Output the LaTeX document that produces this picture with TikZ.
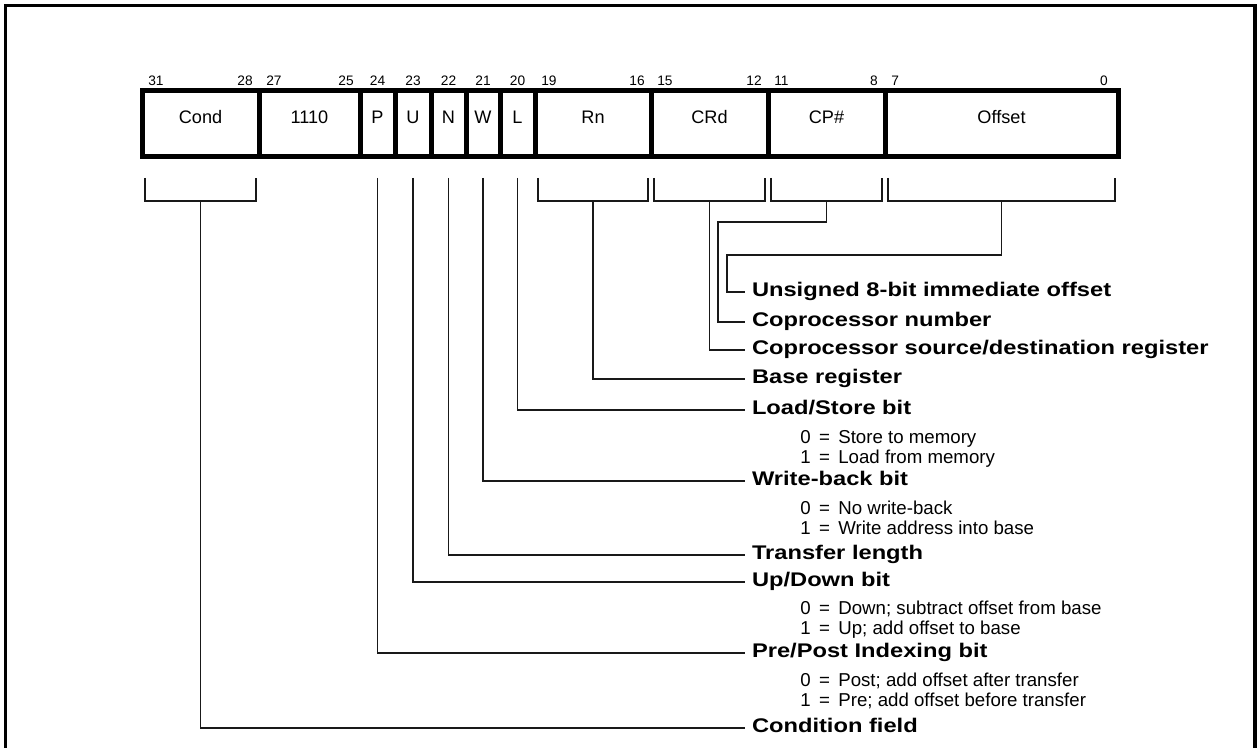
\documentclass[tikz,border=0pt]{standalone}
\usepackage{fontspec}
\setmainfont{Liberation Sans}
\newfontfamily\headfont{Liberation Sans Bold}[FakeStretch=1.2]
\usepackage{tikz}
\usetikzlibrary{fit}
\newcommand{\eqsep}{\hspace{0.45em}=\hspace{0.45em}}

\begin{document}
\begin{tikzpicture}[x=0.75pt, y=-0.75pt,
        field/.style={draw, line width=3.75pt, inner sep=0pt, outer sep=0pt, font=\fontsize{13.6}{16}\selectfont},
        bitno/.style={inner sep=0pt, font=\fontsize{10.3}{12}\selectfont},
        heading/.style={anchor=west, inner xsep=5.25pt, inner ysep=0pt, outer sep=0pt, text height=0.72em, text depth=0pt, font=\fontsize{14.8}{18}\headfont},
        value/.style={anchor=west, inner sep=0pt, text height=0.72em, text depth=0pt, font=\fontsize{14}{16}\selectfont},
        wire/.style={line width=1.1pt, black!90}]
        \useasboundingbox (0,0) rectangle (1257,748);
        % outer frame, open at the bottom
        \draw[line width=2.3pt] (5.5,760) -- (5.5,5.5) -- (1255,5.5) -- (1255,760);

        % instruction fields
        \node[field, fit={(142,91) (259,157)}] (cond) {Cond};
        \node[field, fit={(259,91) (360,157)}] (fixed) {1110};
        \node[field, fit={(360,91) (395,157)}] (pbit) {P};
        \node[field, fit={(395,91) (431,157)}] (ubit) {U};
        \node[field, fit={(431,91) (466,157)}] (nbit) {N};
        \node[field, fit={(466,91) (500,157)}] (wbit) {W};
        \node[field, fit={(500,91) (535,157)}] (lbit) {L};
        \node[field, fit={(535,91) (651,157)}] (rn) {Rn};
        \node[field, fit={(651,91) (768,157)}] (crd) {CRd};
        \node[field, fit={(768,91) (885,157)}] (cpnum) {CP\#};
        \node[field, fit={(885,91) (1118,157)}] (offset) {Offset};

        % bit numbers
        \node[bitno, anchor=base west] (b31) at (148,86) {31};
        \node[bitno, anchor=base east] (b28) at (253,86) {28};
        \node[bitno, anchor=base west] (b27) at (266,86) {27};
        \node[bitno, anchor=base east] (b25) at (354,86) {25};
        \node[bitno, anchor=base] (b24) at (377.5,86) {24};
        \node[bitno, anchor=base] (b23) at (413,86) {23};
        \node[bitno, anchor=base] (b22) at (448.5,86) {22};
        \node[bitno, anchor=base] (b21) at (483,86) {21};
        \node[bitno, anchor=base] (b20) at (517.5,86) {20};
        \node[bitno, anchor=base west] (b19) at (541,86) {19};
        \node[bitno, anchor=base east] (b16) at (645,86) {16};
        \node[bitno, anchor=base west] (b15) at (657,86) {15};
        \node[bitno, anchor=base east] (b12) at (762,86) {12};
        \node[bitno, anchor=base west] (b11) at (774,86) {11};
        \node[bitno, anchor=base east] (b8) at (878,86) {8};
        \node[bitno, anchor=base west] (b7) at (891,86) {7};
        \node[bitno, anchor=base east] (b0) at (1108,86) {0};

        % descriptions
        \node[heading] (loffset) at (745,292) {Unsigned 8-bit immediate offset};
        \node[heading] (lcpnum) at (745,322) {Coprocessor number};
        \node[heading] (lcrd) at (745,350) {Coprocessor source/destination register};
        \node[heading] (lrn) at (745,379) {Base register};
        \node[heading] (llbit) at (745,410) {Load/Store bit};
        \node[value] (vl0) at (800,438.5) {0\eqsep Store to memory};
        \node[value] (vl1) at (800,458.5) {1\eqsep Load from memory};
        \node[heading] (lwbit) at (745,481) {Write-back bit};
        \node[value] (vw0) at (800,510) {0\eqsep No write-back};
        \node[value] (vw1) at (800,530) {1\eqsep Write address into base};
        \node[heading] (lnbit) at (745,555) {Transfer length};
        \node[heading] (lubit) at (745,582) {Up/Down bit};
        \node[value] (vu0) at (800,610) {0\eqsep Down; subtract offset from base};
        \node[value] (vu1) at (800,630) {1\eqsep Up; add offset to base};
        \node[heading] (lpbit) at (745,653) {Pre/Post Indexing bit};
        \node[value] (vp0) at (800,682) {0\eqsep Post; add offset after transfer};
        \node[value] (vp1) at (800,702) {1\eqsep Pre; add offset before transfer};
        \node[heading] (lcond) at (745,728) {Condition field};

        % brackets under the wide fields
        \foreach \f in {cond,rn,crd,cpnum,offset}
            \draw[wire] ([shift={(3,21)}]\f.south west) -- ++(0,23) -| ([shift={(-3,21)}]\f.south east);

        % leader lines
        \draw[wire] ([shift={(0,44)}]offset.south) |- (727,255) |- (loffset.west);
        \draw[wire] ([shift={(0,44)}]cpnum.south) |- (718,222) |- (lcpnum.west);
        \draw[wire] ([shift={(0,44)}]crd.south) |- (lcrd.west);
        \draw[wire] ([shift={(0,44)}]rn.south) |- (lrn.west);
        \draw[wire] ([shift={(0,21)}]lbit.south) |- (llbit.west);
        \draw[wire] ([shift={(0,21)}]wbit.south) |- (lwbit.west);
        \draw[wire] ([shift={(0,21)}]nbit.south) |- (lnbit.west);
        \draw[wire] ([shift={(0,21)}]ubit.south) |- (lubit.west);
        \draw[wire] ([shift={(0,21)}]pbit.south) |- (lpbit.west);
        \draw[wire] ([shift={(0,44)}]cond.south) |- (lcond.west);
    \end{tikzpicture}
\end{document}
